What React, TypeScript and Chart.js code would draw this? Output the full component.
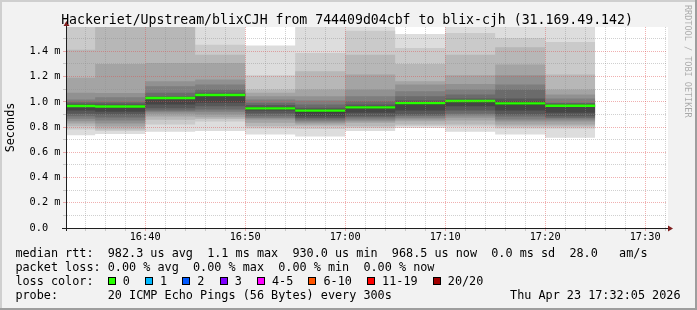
import React, { useEffect, useRef } from 'react';
import { Chart, registerables } from 'chart.js';

Chart.register(...registerables);

// ---------- text ----------
const title = 'Hackeriet/Upstream/blixCJH from 744409d04cbf to blix-cjh (31.169.49.142)';
const yAxisTitle = 'Seconds';
const watermark = 'RRDTOOL / TOBI OETIKER';
const statsMedian = 'median rtt:  982.3 us avg  1.1 ms max  930.0 us min  968.5 us now  0.0 ms sd  28.0   am/s';
const statsLoss = 'packet loss: 0.00 % avg  0.00 % max  0.00 % min  0.00 % now';
const lossColorTitle = 'loss color:';
const lossLabels = ['0', '1', '2', '3', '4-5', '6-10', '11-19', '20/20'];
const lossHex = ['#26ff00', '#00b8ff', '#0059ff', '#7e00ff', '#ff00ff', '#ff5500', '#ff0000', '#a10000'];
const probeTitle = 'probe:';
const probeText = '20 ICMP Echo Pings (56 Bytes) every 300s';
const stamp = 'Thu Apr 23 17:32:05 2026';

// ---------- time ----------
const slotStarts = ['16:30', '16:35', '16:40', '16:45', '16:50', '16:55', '17:00', '17:05', '17:10', '17:15', '17:20'];
const slotLength = 5; // minutes
const viewStart = '16:32:05';
const viewEnd = '17:32:05';

// ---------- 20 sorted ping RTTs (ms) per 5-minute slot ----------
const ping1630 = [0.736, 0.781, 0.807, 0.828, 0.847, 0.866, 0.886, 0.905, 0.931, 0.960, 0.975, 0.979, 0.987, 1.000, 1.018, 1.071, 1.190, 1.413, 1.62, 1.75];
const ping1635 = [0.745, 0.768, 0.781, 0.805, 0.828, 0.852, 0.876, 0.900, 0.921, 0.955, 0.965, 0.975, 0.987, 1.000, 1.036, 1.070, 1.300, 1.62, 1.70, 1.80];
const ping1640 = [0.763, 0.820, 0.858, 0.884, 0.905, 0.921, 0.931, 0.950, 0.979, 1.022, 1.033, 1.038, 1.045, 1.071, 1.123, 1.163, 1.308, 1.62, 1.70, 1.80];
const ping1645 = [0.768, 0.844, 0.864, 0.878, 0.900, 0.921, 0.939, 0.965, 0.992, 1.045, 1.058, 1.062, 1.071, 1.097, 1.137, 1.176, 1.308, 1.374, 1.453, 1.62];
const ping1650 = [0.741, 0.789, 0.807, 0.834, 0.860, 0.872, 0.886, 0.907, 0.931, 0.941, 0.953, 0.958, 0.975, 0.992, 1.018, 1.044, 1.071, 1.097, 1.210, 1.447];
const ping1655 = [0.726, 0.785, 0.807, 0.821, 0.834, 0.847, 0.860, 0.872, 0.886, 0.918, 0.935, 0.942, 0.953, 0.979, 1.010, 1.044, 1.097, 1.242, 1.387, 1.65];
const ping1700 = [0.768, 0.793, 0.807, 0.834, 0.847, 0.860, 0.876, 0.886, 0.913, 0.947, 0.961, 0.967, 0.979, 1.005, 1.044, 1.097, 1.216, 1.374, 1.564, 1.65];
const ping1705 = [0.793, 0.809, 0.821, 0.847, 0.860, 0.874, 0.888, 0.900, 0.931, 0.981, 0.995, 0.999, 1.010, 1.044, 1.084, 1.137, 1.163, 1.300, 1.427, 1.538];
const ping1710 = [0.763, 0.805, 0.821, 0.852, 0.874, 0.892, 0.905, 0.931, 0.965, 0.996, 1.011, 1.015, 1.026, 1.058, 1.097, 1.142, 1.210, 1.374, 1.545, 1.65];
const ping1715 = [0.741, 0.789, 0.805, 0.821, 0.844, 0.860, 0.884, 0.900, 0.931, 0.977, 0.993, 1.003, 1.026, 1.097, 1.137, 1.210, 1.295, 1.432, 1.506, 1.65];
const ping1720 = [0.716, 0.789, 0.805, 0.821, 0.844, 0.860, 0.872, 0.886, 0.913, 0.963, 0.975, 0.979, 0.986, 0.992, 1.026, 1.058, 1.097, 1.216, 1.475, 1.65];

// median RTT (ms) per slot
const medianRtt = [0.967, 0.963, 1.030, 1.054, 0.948, 0.930, 0.956, 0.990, 1.006, 0.988, 0.9685];

// ---------- axes ----------
const yMaxMs = 1.593;
const yMinorStep = 0.1;
const xMinorStep = 2;
const xMajorStep = 10;

const MONO = '"DejaVu Sans Mono", monospace';

const toMin = (s: string) => {
  const p = s.split(':').map(Number);
  return p[0] * 60 + p[1] + (p[2] || 0) / 60;
};

export default function App() {
  const ref = useRef<HTMLCanvasElement>(null);

  useEffect(() => {
    document.body.style.margin = '0';
    const canvas = ref.current!;
    const slots = [ping1630, ping1635, ping1640, ping1645, ping1650, ping1655, ping1700, ping1705, ping1710, ping1715, ping1720];
    const starts = slotStarts.map(toMin);
    const last = slots.length - 1;
    const lastEnd = starts[last] + slotLength;
    const xMin = toMin(viewStart);
    const xMax = toMin(viewEnd);

    const stepPoints = (rank: number) => {
      const pts = slots.map((s, i) => ({ x: starts[i], y: s[rank] }));
      pts.push({ x: lastEnd, y: slots[last][rank] });
      return pts;
    };

    const medianPts: { x: number; y: number | null }[] = [];
    medianRtt.forEach((m, i) => {
      medianPts.push({ x: starts[i], y: m });
      medianPts.push({ x: starts[i] + slotLength, y: m });
      medianPts.push({ x: starts[i] + slotLength, y: null });
    });

    const datasets: any[] = [
      {
        label: 'median',
        data: medianPts,
        borderColor: '#26ff00',
        borderWidth: 2.4,
        pointRadius: 0,
        spanGaps: false,
        fill: false,
      },
    ];
    const half = slots[0].length / 2;
    for (let k = half; k >= 1; k--) {
      const g = Math.floor((190 / half) * (half - k)) + 50;
      const col = `rgb(${g},${g},${g})`;
      const topIdx = datasets.length;
      datasets.push({
        data: stepPoints(slots[0].length - k),
        stepped: true,
        showLine: false,
        borderWidth: 0,
        pointRadius: 0,
        backgroundColor: col,
        fill: topIdx + 1,
      });
      datasets.push({
        data: stepPoints(k - 1),
        stepped: true,
        showLine: false,
        borderWidth: 0,
        pointRadius: 0,
        fill: false,
      });
    }

    const xTicks: number[] = [];
    for (let v = Math.ceil(xMin / xMinorStep) * xMinorStep; v <= xMax + 1e-9; v += xMinorStep) xTicks.push(v);
    const yTicks: number[] = [];
    for (let t = 0; t * yMinorStep <= yMaxMs + 1e-9; t++) yTicks.push(Math.round(t * yMinorStep * 10) / 10);

    const GRID = 'rgba(143,143,143,0.42)';
    const MGRID = 'rgba(222,79,79,0.45)';
    const isMajorY = (v: number) => Math.round(v * 10) % 2 === 0;
    const isMajorX = (v: number) => Math.round(v) % xMajorStep === 0;

    const rrdPlugin = {
      id: 'rrdFrame',
      beforeDraw(chart: any) {
        const { ctx, width, height, chartArea: a } = chart;
        ctx.save();
        ctx.fillStyle = '#f2f2f2';
        ctx.fillRect(0, 0, width, height);
        ctx.fillStyle = '#ffffff';
        ctx.fillRect(a.left, a.top, a.right - a.left + 2, a.bottom - a.top);
        ctx.restore();
      },
      afterDraw(chart: any) {
        const { ctx, width, height, chartArea: a } = chart;
        ctx.save();
        // frame
        ctx.fillStyle = '#cfcfcf';
        ctx.fillRect(0, 0, width, 2);
        ctx.fillRect(0, 0, 2, height);
        ctx.fillStyle = '#9e9e9e';
        ctx.fillRect(0, height - 2, width, 2);
        ctx.fillRect(width - 2, 0, 2, height);
        // axes
        ctx.strokeStyle = '#1f1f1f';
        ctx.lineWidth = 1;
        ctx.beginPath();
        ctx.moveTo(a.left - 4, a.bottom + 0.5);
        ctx.lineTo(a.right + 3, a.bottom + 0.5);
        ctx.moveTo(a.left + 0.5, a.bottom + 3);
        ctx.lineTo(a.left + 0.5, a.top - 2);
        ctx.stroke();
        ctx.fillStyle = '#7f1f1f';
        ctx.beginPath();
        ctx.moveTo(a.right + 2, a.bottom - 2.5);
        ctx.lineTo(a.right + 7, a.bottom + 0.5);
        ctx.lineTo(a.right + 2, a.bottom + 3.5);
        ctx.closePath();
        ctx.fill();
        ctx.beginPath();
        ctx.moveTo(a.left - 2.5, a.top - 1);
        ctx.lineTo(a.left + 0.5, a.top - 6);
        ctx.lineTo(a.left + 3.5, a.top - 1);
        ctx.closePath();
        ctx.fill();

        // title
        ctx.fillStyle = '#000';
        ctx.textBaseline = 'alphabetic';
        ctx.font = `13.2px ${MONO}`;
        ctx.textAlign = 'center';
        ctx.fillText(title, 347, 24);

        // y axis title
        ctx.font = `11.8px ${MONO}`;
        ctx.save();
        ctx.translate(14, 127.5);
        ctx.rotate(-Math.PI / 2);
        ctx.textAlign = 'center';
        ctx.fillText(yAxisTitle, 0, 0);
        ctx.restore();

        // legend
        ctx.textAlign = 'left';
        const adv = ctx.measureText('0').width;
        const x0 = 15.4;
        const col = (n: number) => x0 + n * adv;
        ctx.fillText(statsMedian, x0, 257.3);
        ctx.fillText(statsLoss, x0, 271.3);
        ctx.fillText(lossColorTitle, x0, 285.3);
        let pos = col(13);
        lossLabels.forEach((lab, i) => {
          ctx.fillStyle = '#000';
          ctx.fillRect(Math.round(pos), 277, 8, 8);
          ctx.fillStyle = lossHex[i];
          ctx.fillRect(Math.round(pos) + 1, 278, 6, 6);
          ctx.fillStyle = '#000';
          ctx.fillText(lab, pos + 15, 285.3);
          pos += 16 + ctx.measureText(lab).width + 2 * adv;
        });
        ctx.fillText(probeTitle, x0, 299.3);
        ctx.fillText(probeText, col(13), 299.3);
        ctx.textAlign = 'right';
        ctx.fillText(stamp, 680.5, 299.3);

        // watermark
        ctx.save();
        ctx.translate(685, 5);
        ctx.rotate(Math.PI / 2);
        ctx.textAlign = 'left';
        ctx.font = `8.5px ${MONO}`;
        ctx.fillStyle = 'rgba(0,0,0,0.3)';
        ctx.fillText(watermark, 0, 0);
        ctx.restore();
        ctx.restore();
      },
    };

    const chart = new Chart(canvas, {
      type: 'line',
      data: { datasets },
      options: {
        animation: false,
        responsive: false,
        devicePixelRatio: 1,
        events: [],
        layout: { padding: { left: 0, right: 31, top: 27, bottom: 0 } },
        plugins: { legend: { display: false }, tooltip: { enabled: false } },
        elements: { point: { radius: 0 } },
        scales: {
          x: {
            type: 'linear',
            bounds: 'data',
            min: xMin,
            max: xMax,
            afterBuildTicks: (axis: any) => {
              axis.ticks = xTicks.map((v) => ({ value: v }));
            },
            afterFit: (s: any) => {
              s.height = 82;
            },
            ticks: {
              autoSkip: false,
              maxRotation: 0,
              minRotation: 0,
              padding: 0,
              color: '#000',
              font: { family: MONO, size: 10.3 },
              callback: (v: any) => {
                const m = Math.round(Number(v));
                if (m % xMajorStep !== 0) return '';
                const h = Math.floor(m / 60);
                const mm = m % 60;
                return `${h}:${String(mm).padStart(2, '0')}`;
              },
            },
            grid: {
              z: 1,
              lineWidth: 1,
              color: (c: any) => (c.tick && isMajorX(c.tick.value) ? MGRID : GRID),
              drawTicks: true,
              tickLength: 3,
              tickColor: (c: any) => (c.tick && isMajorX(c.tick.value) ? MGRID : GRID),
            },
            border: { display: true, color: '#1f1f1f', width: 1, dash: [1, 1], z: 2 },
          },
          y: {
            type: 'linear',
            bounds: 'data',
            min: 0,
            max: yMaxMs,
            afterBuildTicks: (axis: any) => {
              axis.ticks = yTicks.map((v) => ({ value: v }));
            },
            afterFit: (s: any) => {
              s.width = 66;
            },
            ticks: {
              autoSkip: false,
              padding: 2.5,
              color: '#000',
              font: { family: MONO, size: 10.3 },
              callback: (v: any) => {
                const t = Math.round(Number(v) * 10);
                if (t % 2 !== 0) return '';
                return t === 0 ? '0.0  ' : (t / 10).toFixed(1) + ' m';
              },
            },
            grid: {
              z: 1,
              lineWidth: 1,
              color: (c: any) => (c.tick && isMajorY(c.tick.value) ? MGRID : GRID),
              drawTicks: true,
              tickLength: 3,
              tickColor: (c: any) => (c.tick && isMajorY(c.tick.value) ? MGRID : GRID),
            },
            border: { display: true, color: '#1f1f1f', width: 1, dash: [1, 1], z: 2 },
          },
        },
      } as any,
      plugins: [rrdPlugin],
    });

    return () => chart.destroy();
  }, []);

  return (
    <div style={{ width: 697, height: 310 }}>
      <canvas ref={ref} width={697} height={310} style={{ display: 'block', width: 697, height: 310 }} />
    </div>
  );
}
